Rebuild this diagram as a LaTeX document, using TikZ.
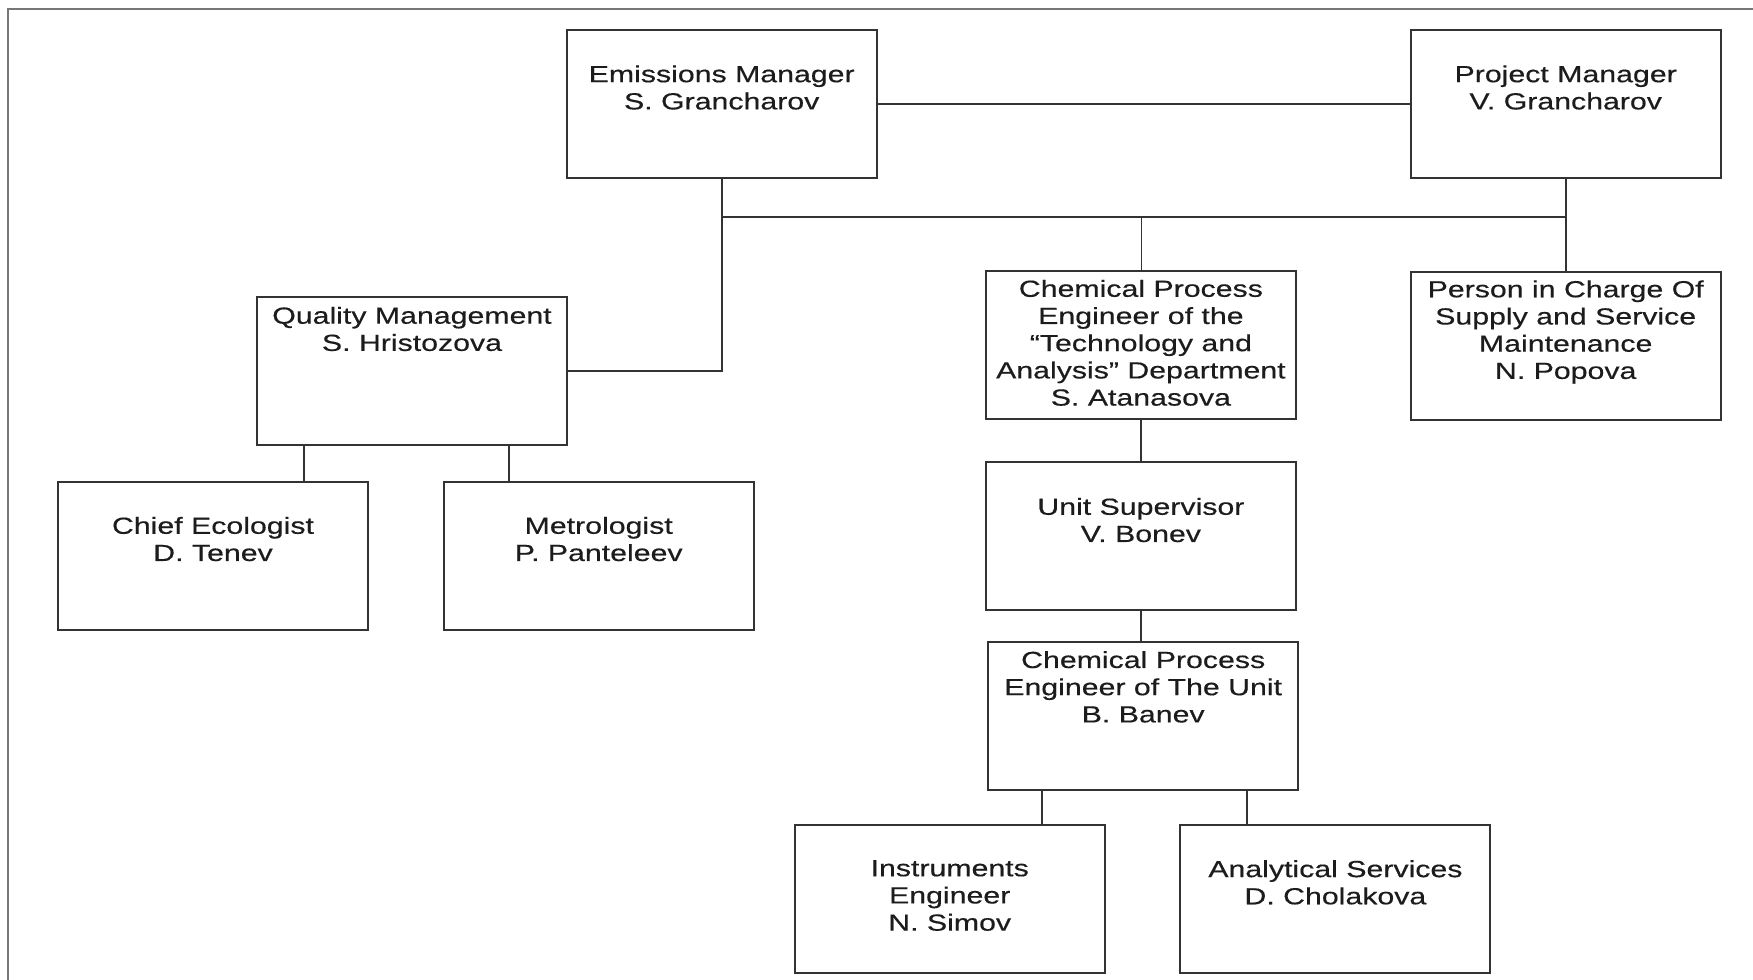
\documentclass[tikz,border=0pt]{standalone}
\usepackage{fontspec}
\setmainfont{Liberation Sans}[FakeStretch=1.30,FakeBold=0.4]
\newcommand\boxfont{\fontsize{11.65}{13.6}\selectfont}
\definecolor{ln}{HTML}{333333}
\definecolor{tx}{HTML}{1C1C1C}
\definecolor{fr}{HTML}{777777}
\begin{document}
\begin{tikzpicture}[x=0.5pt,y=-0.5pt,
  box/.style={draw=ln,line width=1pt,minimum width=155pt,minimum height=74pt,inner sep=0pt},
  txt/.style={text=tx,align=center,inner sep=0pt,anchor=north,font=\boxfont},
  conn/.style={draw=ln,line width=0.9pt}]
\useasboundingbox (0,0) rectangle (1753,980);
% frame
\draw[fr,line width=1pt] (8,1000) -- (8,9) -- (1760,9);
% boxes
\node[box] (em) at (721.7,104) {};
\node[txt] (emt) at (721.7,64.9) {Emissions Manager\\S. Grancharov};
\node[box] (pm) at (1565.7,104) {};
\node[txt] (pmt) at (1565.7,64.9) {Project Manager\\V. Grancharov};
\node[box] (qm) at (412,371.2) {};
\node[txt] (qmt) at (412,306.4) {Quality Management\\S. Hristozova};
\node[box] (ce) at (213,555.6) {};
\node[txt] (cet) at (213,516.5) {Chief Ecologist\\D. Tenev};
\node[box] (me) at (598.7,555.6) {};
\node[txt] (met) at (598.7,516.5) {Metrologist\\P. Panteleev};
\node[box] (ct) at (1140.9,344.9) {};
\node[txt] (ctt) at (1140.9,279.5) {Chemical Process\\Engineer of the\\“Technology and\\Analysis” Department\\S. Atanasova};
\node[box] (pc) at (1565.7,346) {};
\node[txt] (pct) at (1565.7,280) {Person in Charge Of\\Supply and Service\\Maintenance\\N. Popova};
\node[box] (us) at (1140.9,536) {};
\node[txt] (ust) at (1140.9,497.5) {Unit Supervisor\\V. Bonev};
\node[box] (cu) at (1143.2,716) {};
\node[txt] (cut) at (1143.2,650.7) {Chemical Process\\Engineer of The Unit\\B. Banev};
\node[box] (ie) at (949.7,898.8) {};
\node[txt] (iet) at (949.7,859.8) {Instruments\\Engineer\\N. Simov};
\node[box] (as) at (1335.4,898.8) {};
\node[txt] (ast) at (1335.4,859.8) {Analytical Services\\D. Cholakova};
% bus coordinates
\coordinate (busL) at (721.7,216.9);
\coordinate (busM) at (1141.5,216.9);
\coordinate (busR) at (1565.7,216.9);
% connectors
\draw[conn] (em.east) -- (pm.west);
\draw[conn] (em.south) -- (busL) -- (busR);
\draw[conn] (pm.south) -- (busR);
\draw[conn] (busM) -- (busM |- ct.north);
\draw[conn] (busR) -- (pc.north);
\draw[conn] (busL) |- (qm.east);
\draw[conn] (ce.north -| 304.1,0) -- (304.1,0 |- qm.south);
\draw[conn] (me.north -| 508.7,0) -- (508.7,0 |- qm.south);
\draw[conn] (ct.south) -- (us.north);
\draw[conn] (us.south) -- (us.south |- cu.north);
\draw[conn] (ie.north -| 1042,0) -- (1042,0 |- cu.south);
\draw[conn] (as.north -| 1246.6,0) -- (1246.6,0 |- cu.south);
\end{tikzpicture}
\end{document}
